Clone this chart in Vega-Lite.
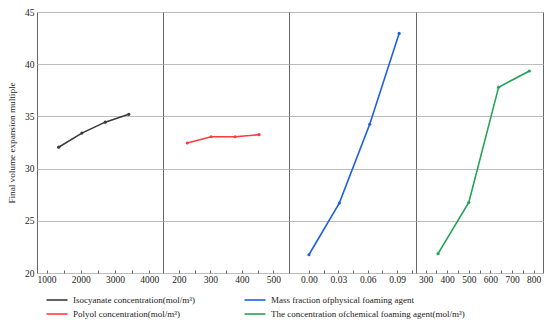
{
  "$schema": "https://vega.github.io/schema/vega-lite/v6.json",
  "padding": {"left": 7, "top": 6, "right": 5, "bottom": 5},
  "background": "white",
  "bounds": "flush",
  "data": {"values": [
    {"panel": 1, "series": "Isocyanate concentration(mol/m³)", "x": 1350, "y": 32.05},
    {"panel": 1, "series": "Isocyanate concentration(mol/m³)", "x": 2030, "y": 33.4},
    {"panel": 1, "series": "Isocyanate concentration(mol/m³)", "x": 2710, "y": 34.45},
    {"panel": 1, "series": "Isocyanate concentration(mol/m³)", "x": 3400, "y": 35.2},
    {"panel": 2, "series": "Polyol concentration(mol/m³)", "x": 227, "y": 32.45},
    {"panel": 2, "series": "Polyol concentration(mol/m³)", "x": 303, "y": 33.05},
    {"panel": 2, "series": "Polyol concentration(mol/m³)", "x": 379, "y": 33.05},
    {"panel": 2, "series": "Polyol concentration(mol/m³)", "x": 455, "y": 33.25},
    {"panel": 3, "series": "Mass fraction ofphysical foaming agent", "x": 0.0, "y": 21.75},
    {"panel": 3, "series": "Mass fraction ofphysical foaming agent", "x": 0.031, "y": 26.7},
    {"panel": 3, "series": "Mass fraction ofphysical foaming agent", "x": 0.062, "y": 34.25},
    {"panel": 3, "series": "Mass fraction ofphysical foaming agent", "x": 0.092, "y": 42.95},
    {"panel": 4, "series": "The concentration ofchemical foaming agent(mol/m³)", "x": 358, "y": 21.85},
    {"panel": 4, "series": "The concentration ofchemical foaming agent(mol/m³)", "x": 500, "y": 26.75},
    {"panel": 4, "series": "The concentration ofchemical foaming agent(mol/m³)", "x": 638, "y": 37.8},
    {"panel": 4, "series": "The concentration ofchemical foaming agent(mol/m³)", "x": 780, "y": 39.35}
  ]},
  "spacing": 0,
  "resolve": {"scale": {"color": "shared"}, "legend": {"color": "shared"}},
  "config": {
    "font": "Liberation Serif",
    "view": {"stroke": "#666", "strokeWidth": 1},
    "axis": {"labelFont": "Liberation Serif", "titleFont": "Liberation Serif", "labelColor": "#222", "titleColor": "#222", "labelFontSize": 9.5, "grid": true, "gridColor": "#bdbdbd", "gridWidth": 1, "domain": false},
    "axisX": {"grid": false, "tickColor": "#666", "tickSize": -3, "labelPadding": 4, "labelFlush": false, "format": "d"},
    "axisY": {"ticks": false, "labelPadding": 3},
    "line": {"strokeWidth": 1.6}
  },
  "hconcat": [
    {
      "width": 126, "height": 261,
      "transform": [{"filter": "datum.panel == 1"}],
      "mark": {"type": "line", "point": {"filled": true, "size": 10}},
      "encoding": {
        "x": {"field": "x", "type": "quantitative", "scale": {"domain": [719, 4399], "nice": false, "zero": false}, "axis": {"values": [1000, 1500, 2000, 2500, 3000, 3500, 4000], "labelExpr": "datum.value % 1000 == 0 ? datum.label : ''", "title": null}},
        "y": {"field": "y", "type": "quantitative", "scale": {"domain": [20, 45], "nice": false}, "axis": {"values": [20, 25, 30, 35, 40, 45], "title": "Final volume expansion multiple", "titleFontSize": 9.2, "titleFontWeight": "normal", "titlePadding": 8}},
        "color": {"field": "series", "type": "nominal", "scale": {"domain": ["Isocyanate concentration(mol/m³)", "Mass fraction ofphysical foaming agent", "Polyol concentration(mol/m³)", "The concentration ofchemical foaming agent(mol/m³)"], "range": ["#3a3a3a", "#1f5fe6", "#ff3b3b", "#22a455"]},
          "legend": {"title": null, "orient": "none", "legendX": 13, "legendY": 281, "columns": 2, "direction": "horizontal", "symbolType": "M-1.75,0H1.75", "symbolStrokeWidth": 2, "symbolSize": 144, "labelFontSize": 9, "labelFont": "Liberation Serif", "labelColor": "#222", "columnPadding": 46, "rowPadding": 2, "labelLimit": 400, "labelOffset": 9}}
      }
    },
    {
      "width": 126, "height": 261,
      "transform": [{"filter": "datum.panel == 2"}],
      "mark": {"type": "line", "point": {"filled": true, "size": 10}},
      "encoding": {
        "x": {"field": "x", "type": "quantitative", "scale": {"domain": [150, 550], "nice": false, "zero": false}, "axis": {"values": [200, 250, 300, 350, 400, 450, 500], "labelExpr": "datum.value % 100 == 0 ? datum.label : ''", "title": null}},
        "y": {"field": "y", "type": "quantitative", "scale": {"domain": [20, 45], "nice": false}, "axis": {"values": [20, 25, 30, 35, 40, 45], "title": null, "labels": false, "minExtent": 0, "maxExtent": 0, "labelPadding": 0}},
        "color": {"field": "series", "type": "nominal"}
      }
    },
    {
      "width": 127, "height": 261,
      "transform": [{"filter": "datum.panel == 3"}],
      "mark": {"type": "line", "point": {"filled": true, "size": 10}},
      "encoding": {
        "x": {"field": "x", "type": "quantitative", "scale": {"domain": [-0.0203, 0.1092], "nice": false, "zero": false}, "axis": {"values": [0, 0.015, 0.03, 0.045, 0.06, 0.075, 0.09, 0.105], "format": ".2f", "labelExpr": "indexof([0, 0.03, 0.06, 0.09], datum.value) >= 0 ? datum.label : ''", "title": null}},
        "y": {"field": "y", "type": "quantitative", "scale": {"domain": [20, 45], "nice": false}, "axis": {"values": [20, 25, 30, 35, 40, 45], "title": null, "labels": false, "minExtent": 0, "maxExtent": 0, "labelPadding": 0}},
        "color": {"field": "series", "type": "nominal"}
      }
    },
    {
      "width": 127, "height": 261,
      "transform": [{"filter": "datum.panel == 4"}],
      "mark": {"type": "line", "point": {"filled": true, "size": 10}},
      "encoding": {
        "x": {"field": "x", "type": "quantitative", "scale": {"domain": [256, 843], "nice": false, "zero": false}, "axis": {"values": [300, 350, 400, 450, 500, 550, 600, 650, 700, 750, 800], "labelExpr": "datum.value % 100 == 0 ? datum.label : ''", "title": null}},
        "y": {"field": "y", "type": "quantitative", "scale": {"domain": [20, 45], "nice": false}, "axis": {"values": [20, 25, 30, 35, 40, 45], "title": null, "labels": false, "minExtent": 0, "maxExtent": 0, "labelPadding": 0}},
        "color": {"field": "series", "type": "nominal"}
      }
    }
  ]
}
